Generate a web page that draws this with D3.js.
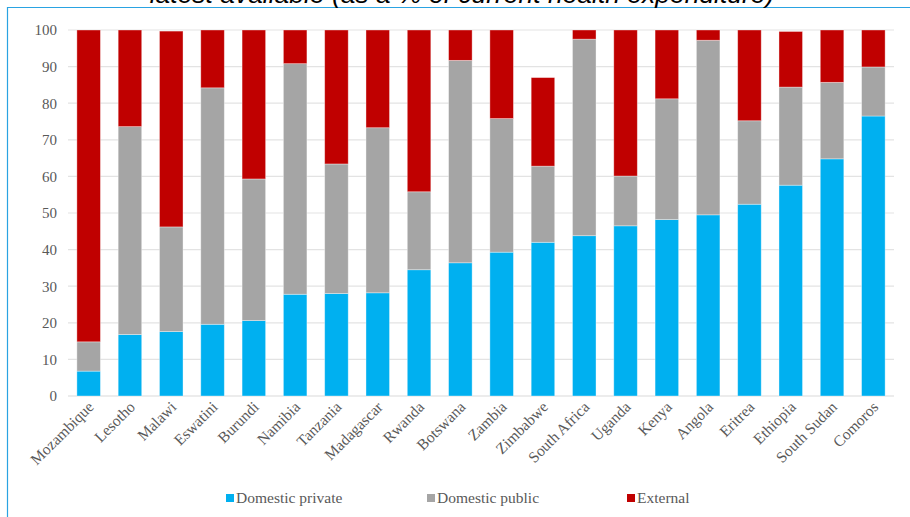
<!DOCTYPE html>
<html>
<head>
<meta charset="utf-8">
<script src="https://cdn.jsdelivr.net/npm/d3@7"></script>
<style>
  html, body { margin: 0; padding: 0; background: #fff; }
  svg { display: block; }
</style>
</head>
<body>
<svg id="chart" width="910" height="517"></svg>
<script>
const countries = ["Mozambique","Lesotho","Malawi","Eswatini","Burundi","Namibia","Tanzania","Madagascar","Rwanda","Botswana","Zambia","Zimbabwe","South Africa","Uganda","Kenya","Angola","Eritrea","Ethiopia","South Sudan","Comoros"];
const domesticPrivate = [6.8,16.8,17.6,19.6,20.6,27.8,28.0,28.2,34.5,36.4,39.3,42.0,43.8,46.5,48.2,49.5,52.4,57.6,64.8,76.5];
const domesticPublic  = [8.0,56.8,28.6,64.6,38.7,63.0,35.4,45.1,21.3,55.3,36.5,20.8,53.7,13.6,33.0,47.7,22.8,26.8,20.9,13.4];
const external        = [85.2,26.4,53.5,15.8,40.7,9.2,36.6,26.7,44.2,8.3,24.2,24.2,2.5,39.9,18.8,2.8,24.8,15.2,14.3,10.1];
const seriesNames = ["Domestic private","Domestic public","External"];
const seriesColors = ["#00B0F0","#A5A5A5","#C00000"];
const yTicks = [0,10,20,30,40,50,60,70,80,90,100];
const titleText = "latest available (as a % of current health expenditure)";

const svg = d3.select("#chart");
const W = 910, H = 517;
const m = {left: 68, right: 16, top: 30, bottom: 121};

const x = d3.scaleBand().domain(countries).range([m.left, W - m.right]).paddingInner(0.43).paddingOuter(0.215);
const y = d3.scaleLinear().domain([0, 100]).range([H - m.bottom, m.top]);

// frame
svg.append("line").attr("x1", 7).attr("x2", W).attr("y1", 7.5).attr("y2", 7.5)
  .attr("stroke", "#2AA3E2").attr("stroke-width", 1.2);
svg.append("line").attr("x1", 7.5).attr("x2", 7.5).attr("y1", 7).attr("y2", H)
  .attr("stroke", "#2AA3E2").attr("stroke-width", 1.2);

// title (cut off at the top, as in the reference)
const title = svg.append("text")
  .attr("x", 462).attr("y", 3)
  .attr("text-anchor", "middle")
  .attr("font-family", "Liberation Sans, Arial, sans-serif")
  .attr("font-style", "italic")
  .attr("font-size", 20)
  .attr("fill", "#000")
  .text(titleText);
const tw = title.node().getComputedTextLength();
title.attr("font-size", 20 * 625 / tw);

// grid
svg.append("g").selectAll("line").data(yTicks).join("line")
  .attr("x1", m.left).attr("x2", W - m.right)
  .attr("y1", d => y(d)).attr("y2", d => y(d))
  .attr("stroke", d => d === 0 ? "#D9D9D9" : "#E3E3E3")
  .attr("stroke-width", 1.2);

// y axis
const yAxis = d3.axisLeft(y).tickValues(yTicks).tickSize(0).tickPadding(11).tickFormat(d3.format("d"));
const yg = svg.append("g").attr("transform", `translate(${m.left},0)`).call(yAxis);
yg.select(".domain").remove();
yg.selectAll("text")
  .attr("font-family", "Liberation Serif, Times New Roman, serif")
  .attr("font-size", 15)
  .attr("fill", "#595959");

// stacked data
const rows = countries.map((c, i) => ({
  country: c,
  "Domestic private": domesticPrivate[i],
  "Domestic public": domesticPublic[i],
  "External": external[i]
}));
const stacked = d3.stack().keys(seriesNames)(rows);

svg.append("g").selectAll("g").data(stacked).join("g")
  .attr("fill", (d, i) => seriesColors[i])
  .selectAll("rect").data(d => d).join("rect")
  .attr("x", d => x(d.data.country))
  .attr("width", x.bandwidth())
  .attr("y", d => y(d[1]))
  .attr("height", d => y(d[0]) - y(d[1]))
  .attr("stroke", "#ffffff")
  .attr("stroke-opacity", 0.45)
  .attr("stroke-width", 0.8);

// x axis labels
const xAxis = d3.axisBottom(x).tickSize(0).tickPadding(0);
const xg = svg.append("g").attr("transform", `translate(0,${H - m.bottom})`).call(xAxis);
xg.select(".domain").remove();
xg.selectAll("text")
  .attr("font-family", "Liberation Serif, Times New Roman, serif")
  .attr("font-size", 15.5)
  .attr("fill", "#595959")
  .attr("text-anchor", "end")
  .attr("dy", null)
  .attr("y", 0)
  .attr("transform", "translate(6,12) rotate(-45)");

// legend
const legendX = [226, 427, 627];
const lg = svg.append("g").selectAll("g").data(seriesNames).join("g")
  .attr("transform", (d, i) => `translate(${legendX[i]},494)`);
lg.append("rect").attr("width", 8).attr("height", 8).attr("fill", (d, i) => seriesColors[i]);
lg.append("text").attr("x", 10).attr("y", 9)
  .attr("font-family", "Liberation Serif, Times New Roman, serif")
  .attr("font-size", 15.5)
  .attr("fill", "#595959")
  .text(d => d);
</script>
</body>
</html>
